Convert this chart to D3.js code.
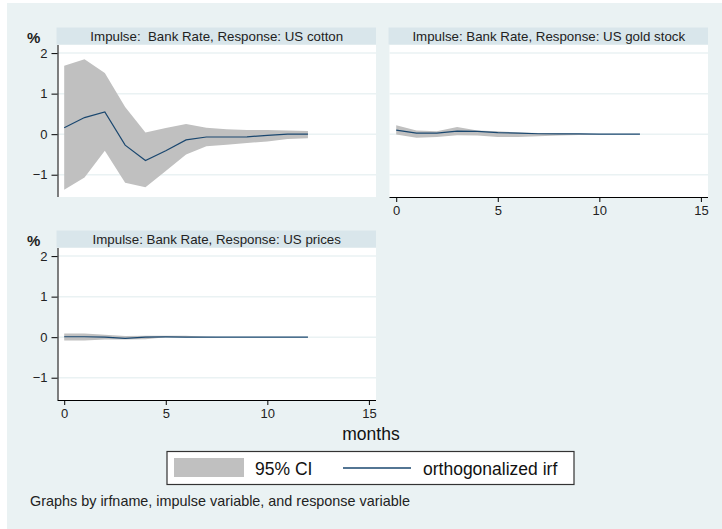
<!DOCTYPE html>
<html>
<head>
<meta charset="utf-8">
<script src="https://cdn.jsdelivr.net/npm/d3@7"></script>
<style>
  body { margin: 0; background: #fff; }
  svg { display: block; font-family: "Liberation Sans", Arial, sans-serif; }
  .tick text { font-size: 13px; fill: #222; }
  .ptitle { white-space: pre; }
</style>
</head>
<body>
<div id="chart"></div>
<script>
'use strict';

// --- data (steps 0..12, months) ---
const steps = [0, 1, 2, 3, 4, 5, 6, 7, 8, 9, 10, 11, 12];

const cottonIrf = [0.16, 0.41, 0.55, -0.27, -0.65, -0.41, -0.14, -0.07, -0.07, -0.065, -0.03, 0, 0];
const cottonLo  = [-1.37, -1.07, -0.41, -1.2, -1.31, -0.91, -0.5, -0.3, -0.26, -0.22, -0.18, -0.12, -0.1];
const cottonHi  = [1.69, 1.85, 1.51, 0.67, 0.04, 0.15, 0.25, 0.16, 0.12, 0.1, 0.1, 0.09, 0.08];

const goldIrf = [0.1, 0.025, 0.025, 0.075, 0.07, 0.04, 0.025, 0.01, 0.005, 0.005, 0, 0, 0];
const goldLo  = [-0.01, -0.09, -0.07, -0.025, -0.03, -0.07, -0.07, -0.05, -0.03, -0.02, -0.01, 0, 0];
const goldHi  = [0.22, 0.09, 0.07, 0.18, 0.09, 0.07, 0.04, 0.03, 0.02, 0.01, 0, 0, 0];

const pricesIrf = [0.01, 0.01, 0, -0.03, 0, 0.005, 0, 0, 0, 0, 0, 0, 0];
const pricesLo  = [-0.08, -0.08, -0.06, -0.06, -0.05, 0, 0, 0, 0, 0, 0, 0, 0];
const pricesHi  = [0.09, 0.09, 0.06, 0.03, 0.035, 0.035, 0.035, 0.01, 0, 0, 0, 0, 0];

const xTicks = [0, 5, 10, 15];
const yTicks = [-1, 0, 1, 2];

const panelTitles = [
  "Impulse:  Bank Rate, Response: US cotton",
  "Impulse: Bank Rate, Response: US gold stock",
  "Impulse: Bank Rate, Response: US prices"
];

// --- layout ---
const W = 722, H = 529;
const bg = "#eaf2f3", strip = "#d9e6eb", grid = "#eaf2f3",
      bandColor = "#c0c0c0", lineColor = "#1a476f";
const pw = 318.5, ph = 152, stripH = 17;

const panels = [
  { title: panelTitles[0], irf: cottonIrf, lo: cottonLo, hi: cottonHi, left: 57.5, top: 45, yAxis: true, xAxis: false },
  { title: panelTitles[1], irf: goldIrf, lo: goldLo, hi: goldHi, left: 389.5, top: 45, yAxis: false, xAxis: true },
  { title: panelTitles[2], irf: pricesIrf, lo: pricesLo, hi: pricesHi, left: 57.5, top: 248, yAxis: true, xAxis: true }
];

const svg = d3.select("#chart").append("svg")
  .attr("width", W).attr("height", H);

svg.append("rect").attr("x", 7).attr("y", 3)
  .attr("width", W - 7).attr("height", H - 3).attr("fill", bg);

const x = d3.scaleLinear().domain([-0.33, 15.35]).range([0, pw]);
const y = d3.scaleLinear().domain([-1.55, 2.2]).range([ph, 0]);

panels.forEach(function(p) {
  const g = svg.append("g").attr("transform", `translate(${p.left},${p.top})`);
  const data = steps.map((s, i) => ({ s: s, irf: p.irf[i], lo: p.lo[i], hi: p.hi[i] }));

  // title strip
  g.append("rect").attr("x", -1).attr("y", -stripH - 0.5)
    .attr("width", pw + 1).attr("height", stripH).attr("fill", strip);
  g.append("text").attr("class", "ptitle").attr("x", pw / 2).attr("y", -4.5)
    .attr("text-anchor", "middle").attr("font-size", "13.3px").attr("fill", "#222")
    .text(p.title);

  // plot region
  g.append("rect").attr("width", pw).attr("height", ph).attr("fill", "#fff");
  g.selectAll(".grid").data(yTicks).enter().append("line")
    .attr("x1", 0).attr("x2", pw)
    .attr("y1", d => y(d)).attr("y2", d => y(d))
    .attr("stroke", grid).attr("stroke-width", 1.5);

  g.append("path").datum(data)
    .attr("fill", bandColor)
    .attr("d", d3.area().x(d => x(d.s)).y0(d => y(d.lo)).y1(d => y(d.hi)));

  g.append("path").datum(data)
    .attr("fill", "none").attr("stroke", lineColor).attr("stroke-width", 1.2)
    .attr("d", d3.line().x(d => x(d.s)).y(d => y(d.irf)));

  if (p.yAxis) {
    const ya = g.append("g").call(d3.axisLeft(y).tickValues(yTicks)
      .tickFormat(d3.format("d")).tickSize(6).tickPadding(4));
    ya.select(".domain").attr("d", `M0.5,0V${ph}`).attr("stroke", "#000");
    g.append("text").attr("x", -30.5).attr("y", -2)
      .attr("font-size", "15px").attr("font-weight", "bold").attr("fill", "#222")
      .text("%");
  }
  if (p.xAxis) {
    const xa = g.append("g").attr("transform", `translate(0,${ph})`)
      .call(d3.axisBottom(x).tickValues(xTicks).tickSize(5).tickPadding(4));
    xa.select(".domain").attr("d", `M0,0.5H${pw}`).attr("stroke", "#000");
  }
});

// x title
svg.append("text").attr("x", 371).attr("y", 440)
  .attr("text-anchor", "middle").attr("font-size", "17.5px").attr("fill", "#111")
  .text("months");

// legend
const lg = svg.append("g");
lg.append("rect").attr("x", 167).attr("y", 451.5).attr("width", 407).attr("height", 33)
  .attr("fill", "#fff").attr("stroke", "#333").attr("stroke-width", 1.2);
lg.append("rect").attr("x", 174).attr("y", 458).attr("width", 70).attr("height", 19)
  .attr("fill", bandColor);
lg.append("text").attr("x", 255).attr("y", 475).attr("font-size", "17.5px").attr("fill", "#111")
  .text("95% CI");
lg.append("line").attr("x1", 343).attr("x2", 411).attr("y1", 468).attr("y2", 468)
  .attr("stroke", lineColor).attr("stroke-width", 1.6);
lg.append("text").attr("x", 423).attr("y", 475).attr("font-size", "17.5px").attr("fill", "#111")
  .text("orthogonalized irf");

// note
svg.append("text").attr("x", 30).attr("y", 506).attr("font-size", "14.4px").attr("fill", "#222")
  .text("Graphs by irfname, impulse variable, and response variable");
</script>
</body>
</html>
